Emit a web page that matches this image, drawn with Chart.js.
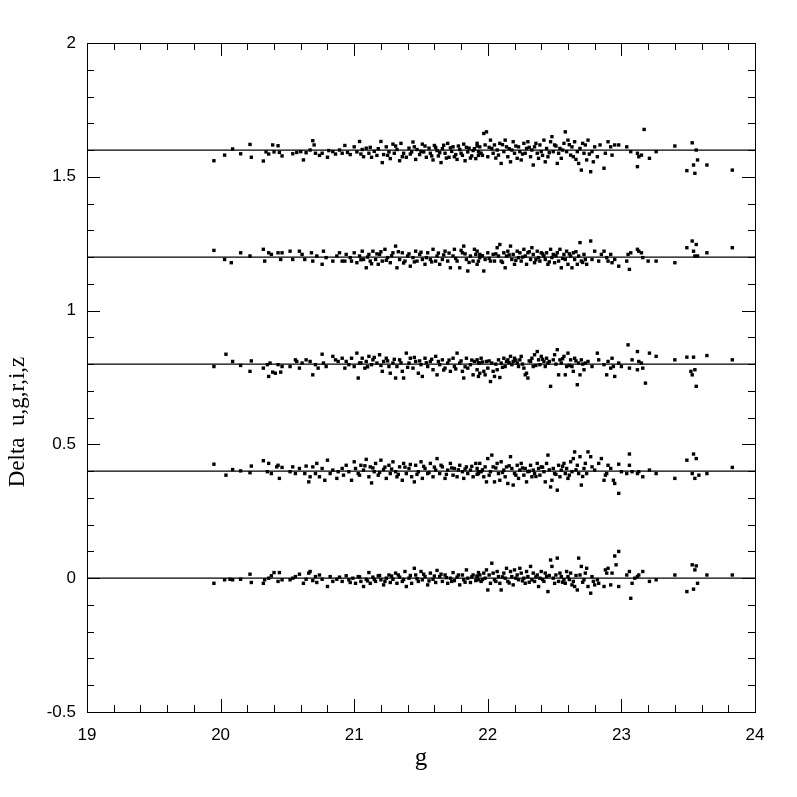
<!DOCTYPE html>
<html>
<head>
<meta charset="utf-8">
<script src="https://cdn.jsdelivr.net/npm/chart.js@4"></script>
<style>
  body { margin: 0; background: #fff; }
</style>
</head>
<body>
<canvas id="grafica" width="797" height="797"></canvas>
<script>
// Desplazamiento de cada banda
const offsets = [0, 0.4, 0.8, 1.2, 1.6];

// Residuos [g, delta], una lista por banda
const deltaU = [
  [19.95,-0.019],[20.03,-0.006],[20.07,-0.004],[20.09,-0.006],[20.15,-0.004],[20.22,0.015],[20.23,-0.016],[20.32,-0.019],[20.33,-0.006],[20.36,0.000],
  [20.38,0.009],[20.40,0.021],[20.43,-0.012],[20.44,0.021],[20.46,-0.006],[20.52,-0.006],[20.54,0.000],[20.56,0.006],[20.59,0.015],[20.62,-0.019],
  [20.64,-0.004],[20.66,0.019],[20.67,0.025],[20.69,-0.009],[20.71,0.006],[20.72,-0.016],[20.74,0.012],[20.76,-0.004],[20.80,-0.031],[20.82,0.006],
  [20.84,-0.012],[20.87,-0.004],[20.89,0.004],[20.91,-0.012],[20.94,0.009],[20.96,-0.006],[20.97,-0.016],[20.99,0.000],[21.01,-0.019],[21.03,0.006],
  [21.05,-0.012],[21.07,-0.031],[21.09,-0.004],[21.11,0.021],[21.12,-0.019],[21.14,0.004],[21.16,-0.012],[21.18,0.009],[21.20,-0.006],[21.22,-0.025],
  [21.24,0.000],[21.26,0.012],[21.27,-0.016],[21.29,-0.004],[21.31,0.019],[21.32,-0.019],[21.34,0.004],[21.36,-0.012],[21.38,0.025],[21.39,-0.031],
  [21.41,0.000],[21.43,-0.019],[21.45,0.037],[21.46,0.012],[21.48,-0.012],[21.50,0.025],[21.51,-0.006],[21.53,0.006],[21.55,-0.025],[21.57,0.019],
  [21.59,-0.004],[21.61,-0.016],[21.62,0.029],[21.64,0.006],[21.66,-0.012],[21.68,0.012],[21.70,-0.019],[21.72,0.000],[21.74,0.021],[21.75,-0.009],
  [21.77,0.004],[21.79,-0.025],[21.81,0.012],[21.82,-0.006],[21.84,0.031],[21.85,0.000],[21.87,-0.016],[21.89,0.012],[21.91,-0.009],[21.93,0.021],
  [21.04,0.005],[21.10,-0.010],[21.15,-0.005],[21.19,0.010],[21.23,-0.012],[21.28,0.008],[21.33,0.012],[21.37,-0.005],[21.42,0.010],[21.47,-0.002],
  [21.52,0.015],[21.56,-0.010],[21.60,0.008],[21.65,0.015],[21.69,0.002],[21.73,-0.012],[21.78,0.012],[21.83,-0.015],[21.88,0.005],[21.92,0.008],
  [21.92,0.006],[21.93,-0.006],[21.94,0.012],[21.95,-0.012],[21.97,0.019],[21.98,0.000],[21.99,0.031],[22.00,-0.044],[22.02,-0.019],[22.03,0.056],
  [22.04,0.019],[22.05,-0.006],[22.07,0.025],[22.08,0.006],[22.09,-0.019],[22.10,-0.044],[22.12,0.019],[22.13,0.000],[22.14,0.037],[22.15,-0.012],
  [22.17,0.025],[22.18,0.006],[22.19,-0.025],[22.20,0.031],[22.22,0.012],[22.23,-0.006],[22.24,0.037],[22.25,0.019],[22.27,0.000],[22.28,-0.019],
  [22.29,0.025],[22.30,0.006],[22.32,0.044],[22.33,-0.006],[22.34,0.019],[22.35,-0.012],[22.37,0.012],[22.38,-0.031],[22.39,0.000],[22.40,0.025],
  [22.42,-0.012],[22.43,0.019],[22.44,0.006],[22.45,-0.050],[22.47,0.068],[22.48,0.044],[22.49,0.000],[22.50,-0.019],[22.52,0.075],[22.53,-0.012],
  [22.54,0.019],[22.55,0.006],[22.57,-0.006],[22.58,-0.019],[22.59,0.025],[22.60,0.006],[22.62,0.019],[22.63,-0.025],[22.64,-0.012],[22.65,-0.031],
  [22.67,-0.044],[22.68,0.075],[22.69,0.012],[22.70,0.044],[22.72,-0.006],[22.73,0.019],[22.74,0.037],[22.75,-0.031],[22.77,-0.056],[22.78,0.006],
  [22.79,-0.012],[22.80,-0.025],[22.82,-0.006],[22.83,-0.019],[22.87,-0.031],[22.88,0.031],[22.89,0.019],[22.90,0.037],[22.92,-0.025],[22.93,0.019],
  [22.95,0.083],[22.96,0.050],[22.98,0.100],[22.98,-0.031],[23.04,0.012],[23.06,0.025],[23.07,-0.075],[23.08,-0.019],[23.10,0.000],[23.12,0.006],
  [23.13,0.012],[23.16,0.025],[23.21,-0.012],[23.26,-0.006],[23.40,0.012],[23.49,-0.050],[23.53,0.050],[23.54,-0.041],[23.55,0.031],[23.56,0.046],
  [23.57,-0.019],[23.64,0.012],[23.83,0.012],
  [21.96,-0.005],[22.01,0.012],[22.06,-0.012],[22.11,0.005],[22.16,-0.018],[22.21,0.000],[22.26,-0.010],[22.31,-0.015],[22.36,0.005],[22.41,-0.005],
  [22.46,0.010],[22.51,0.012],[22.56,-0.015],[22.61,-0.005],[22.66,0.010],[22.71,-0.015]
];

const deltaG = [
  [19.95,0.026],[20.04,-0.015],[20.09,0.006],[20.15,0.001],[20.22,-0.006],[20.23,0.019],[20.32,0.039],[20.35,-0.002],[20.36,0.029],[20.38,-0.009],
  [20.42,0.016],[20.43,0.022],[20.44,-0.027],[20.46,0.014],[20.52,-0.002],[20.54,0.016],[20.56,-0.009],[20.59,0.010],[20.63,-0.009],[20.64,0.019],
  [20.66,-0.040],[20.67,-0.021],[20.69,0.016],[20.71,-0.009],[20.72,0.029],[20.74,-0.021],[20.76,0.010],[20.78,-0.034],[20.80,0.041],[20.82,-0.009],
  [20.84,0.004],[20.87,-0.027],[20.88,-0.002],[20.91,0.010],[20.92,-0.015],[20.94,0.022],[20.96,-0.002],[20.98,-0.034],[21.00,0.035],[21.01,0.010],
  [21.03,-0.009],[21.05,0.022],[21.07,0.004],[21.09,0.044],[21.11,-0.021],[21.12,0.016],[21.13,-0.044],[21.15,-0.002],[21.16,0.029],[21.18,-0.015],
  [21.20,0.041],[21.22,0.006],[21.24,-0.027],[21.26,0.022],[21.27,-0.009],[21.29,0.035],[21.31,-0.002],[21.32,-0.021],[21.34,0.016],[21.36,-0.034],
  [21.37,0.029],[21.39,-0.009],[21.41,0.010],[21.43,-0.021],[21.45,-0.040],[21.46,0.022],[21.48,-0.002],[21.50,0.035],[21.51,-0.027],[21.53,0.010],
  [21.55,-0.009],[21.57,0.029],[21.59,-0.021],[21.61,0.004],[21.62,0.047],[21.64,-0.009],[21.66,0.016],[21.68,-0.027],[21.70,0.004],[21.72,0.029],
  [21.74,-0.015],[21.75,0.010],[21.77,-0.021],[21.79,0.022],[21.81,-0.002],[21.82,-0.027],[21.84,0.016],[21.85,-0.009],[21.87,0.004],[21.89,-0.021],
  [21.91,0.029],[21.93,-0.002],
  [21.04,-0.015],[21.08,0.020],[21.14,0.012],[21.19,-0.005],[21.23,0.015],[21.28,0.008],[21.33,-0.012],[21.38,0.015],[21.42,0.025],[21.47,-0.012],
  [21.52,0.018],[21.56,-0.005],[21.60,0.015],[21.65,0.022],[21.69,-0.012],[21.73,0.012],[21.78,0.005],[21.83,0.008],[21.88,0.018],[21.92,-0.012],
  [21.92,0.010],[21.93,-0.009],[21.94,0.029],[21.95,-0.002],[21.97,-0.021],[21.98,0.016],[21.99,-0.040],[22.00,0.047],[22.02,-0.002],[22.03,0.060],
  [22.04,0.016],[22.05,-0.040],[22.07,0.029],[22.08,-0.009],[22.09,-0.034],[22.10,0.035],[22.12,0.004],[22.13,-0.021],[22.14,0.016],[22.15,-0.046],
  [22.17,0.054],[22.18,0.010],[22.19,-0.052],[22.20,-0.009],[22.22,0.022],[22.23,-0.027],[22.24,0.004],[22.25,0.029],[22.27,-0.015],[22.28,0.010],
  [22.29,-0.040],[22.30,-0.002],[22.32,0.022],[22.33,-0.021],[22.34,0.004],[22.35,-0.009],[22.37,0.029],[22.38,0.010],[22.39,-0.015],[22.40,0.016],
  [22.42,-0.002],[22.43,-0.040],[22.44,0.029],[22.45,0.060],[22.47,-0.059],[22.48,-0.034],[22.49,0.010],[22.50,-0.009],[22.52,-0.071],[22.53,0.022],
  [22.54,-0.021],[22.55,0.004],[22.57,0.029],[22.58,-0.009],[22.59,0.010],[22.60,-0.027],[22.62,0.035],[22.63,-0.002],[22.64,0.047],[22.65,0.072],
  [22.67,0.022],[22.68,-0.009],[22.69,0.054],[22.70,-0.052],[22.72,0.010],[22.73,0.029],[22.74,-0.009],[22.75,0.072],[22.77,0.054],[22.78,0.016],
  [22.80,0.004],[22.83,0.029],[22.85,0.047],[22.87,-0.034],[22.88,-0.015],[22.89,-0.009],[22.90,0.022],[22.92,0.010],[22.94,-0.034],[22.95,-0.046],
  [22.98,-0.083],[22.98,0.026],[23.00,-0.002],[23.04,-0.009],[23.06,0.064],[23.06,0.022],[23.08,-0.002],[23.12,-0.009],[23.13,-0.002],[23.16,-0.021],
  [23.21,0.004],[23.26,-0.009],[23.40,-0.027],[23.49,0.041],[23.53,-0.009],[23.54,0.064],[23.55,-0.027],[23.56,0.047],[23.58,-0.015],[23.64,-0.009],
  [23.83,0.014],
  [21.96,0.005],[22.01,-0.015],[22.06,0.012],[22.11,-0.005],[22.16,0.020],[22.21,-0.015],[22.26,0.012],[22.31,0.000],[22.36,-0.020],[22.41,0.015],
  [22.46,0.005],[22.51,-0.012],[22.56,0.018],[22.61,-0.015],[22.66,0.005],[22.71,-0.020]
];

const deltaR = [
  [19.95,-0.009],[20.04,0.037],[20.09,0.010],[20.15,-0.005],[20.22,-0.027],[20.23,0.012],[20.32,-0.015],[20.35,-0.002],[20.36,-0.046],[20.37,0.004],
  [20.39,-0.030],[20.41,-0.034],[20.43,-0.002],[20.45,-0.030],[20.46,-0.009],[20.52,-0.009],[20.56,0.016],[20.57,0.010],[20.59,-0.015],[20.61,0.004],
  [20.64,0.016],[20.67,0.010],[20.69,-0.040],[20.71,-0.002],[20.73,-0.015],[20.76,0.037],[20.77,0.004],[20.79,-0.009],[20.84,0.029],[20.86,0.016],
  [20.88,0.010],[20.91,0.022],[20.93,-0.015],[20.94,0.010],[20.96,-0.002],[20.98,0.022],[21.00,-0.009],[21.02,0.041],[21.03,-0.052],[21.04,0.004],
  [21.06,0.022],[21.08,-0.015],[21.09,0.010],[21.11,0.029],[21.13,-0.002],[21.14,0.016],[21.17,0.004],[21.19,0.035],[21.21,-0.027],[21.22,0.010],
  [21.24,0.022],[21.26,-0.009],[21.27,-0.034],[21.29,0.004],[21.31,-0.052],[21.32,-0.009],[21.34,0.016],[21.36,-0.027],[21.37,-0.052],[21.39,0.041],
  [21.41,0.004],[21.42,0.022],[21.44,-0.015],[21.46,0.010],[21.48,-0.034],[21.50,-0.002],[21.51,-0.046],[21.53,0.022],[21.55,-0.009],[21.57,0.010],
  [21.59,-0.021],[21.61,0.029],[21.62,-0.040],[21.64,-0.002],[21.66,0.016],[21.68,-0.015],[21.70,0.004],[21.72,-0.027],[21.74,0.022],[21.75,-0.009],
  [21.77,0.041],[21.79,0.004],[21.81,-0.027],[21.82,-0.052],[21.84,0.022],[21.85,-0.015],[21.87,-0.002],[21.89,-0.040],[21.90,0.010],[21.92,-0.021],
  [21.94,-0.034],
  [21.05,0.005],[21.10,-0.010],[21.15,0.025],[21.20,-0.005],[21.25,0.012],[21.30,0.018],[21.35,0.005],[21.40,-0.012],[21.45,0.025],[21.49,0.012],
  [21.54,0.005],[21.58,0.018],[21.63,0.010],[21.67,-0.022],[21.71,0.015],[21.76,-0.018],[21.80,0.012],[21.83,-0.010],[21.88,0.015],[21.93,0.005],
  [21.92,0.016],[21.93,-0.046],[21.94,0.004],[21.95,0.022],[21.97,-0.027],[21.98,-0.040],[21.99,0.010],[22.00,-0.015],[22.02,-0.065],[22.03,0.004],
  [22.04,-0.027],[22.05,-0.046],[22.07,-0.021],[22.08,0.016],[22.09,-0.050],[22.10,0.004],[22.12,0.022],[22.13,-0.009],[22.14,0.010],[22.15,0.016],
  [22.17,0.029],[22.18,-0.002],[22.19,0.010],[22.20,0.022],[22.22,0.004],[22.23,-0.009],[22.24,0.016],[22.25,0.029],[22.27,-0.015],[22.28,-0.040],
  [22.29,-0.034],[22.30,-0.052],[22.32,0.010],[22.33,0.022],[22.34,-0.009],[22.35,0.035],[22.37,0.047],[22.38,0.016],[22.39,-0.002],[22.40,0.029],
  [22.42,0.010],[22.43,-0.009],[22.44,0.022],[22.45,0.004],[22.47,-0.083],[22.49,0.016],[22.50,0.035],[22.52,0.054],[22.53,-0.040],[22.54,0.016],
  [22.55,0.004],[22.57,0.029],[22.58,-0.040],[22.59,-0.009],[22.60,0.041],[22.62,0.016],[22.63,-0.009],[22.64,-0.027],[22.65,0.022],[22.67,-0.077],
  [22.68,0.004],[22.69,-0.040],[22.70,0.016],[22.72,-0.021],[22.73,0.004],[22.75,0.010],[22.78,-0.009],[22.82,0.041],[22.83,0.016],[22.87,-0.002],
  [22.89,-0.040],[22.90,0.010],[22.92,-0.015],[22.93,0.022],[22.94,-0.009],[22.95,-0.046],[22.98,0.004],[23.00,-0.009],[23.05,0.072],[23.06,-0.015],
  [23.08,0.016],[23.12,0.047],[23.12,-0.021],[23.13,0.010],[23.15,0.004],[23.16,-0.015],[23.18,-0.071],[23.21,0.041],[23.26,0.029],[23.40,0.016],
  [23.49,0.026],[23.52,-0.027],[23.53,-0.040],[23.54,0.026],[23.55,-0.021],[23.56,-0.083],[23.64,0.032],[23.83,0.016],
  [21.96,0.008],[22.01,0.012],[22.06,0.000],[22.11,-0.012],[22.16,0.005],[22.21,0.015],[22.26,0.000],[22.31,0.012],[22.36,-0.005],[22.41,0.018],
  [22.46,0.010],[22.51,0.000],[22.56,0.020],[22.61,-0.005],[22.66,0.012],[22.71,0.000]
];

const deltaI = [
  [19.95,0.025],[20.03,-0.009],[20.08,-0.021],[20.15,0.016],[20.22,0.004],[20.32,0.029],[20.33,-0.015],[20.36,0.016],[20.38,0.010],[20.43,0.016],
  [20.45,-0.009],[20.46,0.016],[20.52,0.022],[20.54,-0.009],[20.59,0.022],[20.61,0.010],[20.63,-0.009],[20.68,0.016],[20.69,-0.015],[20.72,0.004],
  [20.76,-0.027],[20.77,0.022],[20.79,-0.002],[20.84,-0.015],[20.87,0.004],[20.89,0.016],[20.91,-0.015],[20.93,-0.015],[20.94,0.010],[20.97,-0.002],
  [20.98,-0.015],[21.00,0.016],[21.02,-0.021],[21.04,0.004],[21.06,0.022],[21.07,-0.009],[21.09,-0.040],[21.11,0.010],[21.12,-0.015],[21.14,0.022],
  [21.16,-0.009],[21.18,-0.027],[21.19,0.010],[21.21,-0.015],[21.23,0.029],[21.25,-0.002],[21.27,-0.021],[21.29,0.016],[21.31,0.041],[21.32,-0.040],
  [21.34,-0.009],[21.36,0.016],[21.38,-0.015],[21.40,0.004],[21.42,-0.034],[21.44,-0.002],[21.46,0.022],[21.47,-0.015],[21.49,0.010],[21.51,-0.009],
  [21.53,-0.027],[21.55,0.016],[21.57,-0.009],[21.59,0.029],[21.61,-0.015],[21.62,0.004],[21.64,-0.027],[21.66,-0.009],[21.68,0.022],[21.70,-0.015],
  [21.72,-0.040],[21.74,0.004],[21.75,0.029],[21.77,-0.015],[21.79,-0.040],[21.81,0.016],[21.82,0.041],[21.84,-0.009],[21.85,-0.052],[21.87,0.004],
  [21.89,-0.015],[21.90,0.029],[21.92,-0.027],[21.94,-0.002],
  [21.05,-0.010],[21.10,0.000],[21.13,-0.025],[21.17,0.012],[21.20,0.020],[21.24,-0.012],[21.28,0.005],[21.33,0.020],[21.37,-0.022],[21.41,0.012],
  [21.45,-0.018],[21.50,0.018],[21.54,-0.002],[21.58,-0.018],[21.63,0.015],[21.67,0.008],[21.71,0.015],[21.76,-0.005],[21.80,0.025],[21.83,0.012],
  [21.86,-0.020],[21.91,0.010],
  [21.92,0.022],[21.93,-0.015],[21.94,0.010],[21.97,-0.052],[21.98,-0.009],[22.00,0.016],[22.02,-0.015],[22.04,0.010],[22.05,-0.015],[22.07,0.035],
  [22.08,0.004],[22.09,0.047],[22.10,-0.015],[22.12,0.016],[22.13,-0.040],[22.14,0.004],[22.15,0.022],[22.17,0.041],[22.18,-0.009],[22.19,0.010],
  [22.20,-0.027],[22.22,0.022],[22.23,-0.002],[22.24,0.016],[22.25,-0.015],[22.27,0.029],[22.28,0.004],[22.29,-0.027],[22.30,0.016],[22.32,-0.009],
  [22.33,0.035],[22.34,0.010],[22.35,-0.021],[22.37,0.022],[22.38,-0.002],[22.39,-0.015],[22.40,0.016],[22.42,0.004],[22.43,-0.009],[22.44,0.016],
  [22.45,-0.027],[22.47,0.029],[22.48,-0.002],[22.49,0.010],[22.50,-0.021],[22.52,0.016],[22.53,-0.015],[22.54,0.029],[22.55,-0.040],[22.57,0.010],
  [22.58,-0.009],[22.59,0.022],[22.60,-0.027],[22.62,0.004],[22.63,-0.040],[22.64,0.016],[22.65,-0.009],[22.67,-0.027],[22.68,0.004],[22.69,0.054],
  [22.70,-0.015],[22.72,0.010],[22.73,-0.009],[22.74,-0.027],[22.77,0.060],[22.78,-0.009],[22.80,0.022],[22.83,-0.015],[22.85,0.010],[22.87,0.022],
  [22.89,-0.002],[22.90,-0.015],[22.92,0.010],[22.93,-0.021],[22.95,-0.009],[22.98,-0.034],[23.04,-0.015],[23.05,0.010],[23.06,-0.046],[23.07,0.016],
  [23.12,0.029],[23.13,0.022],[23.15,0.016],[23.16,-0.002],[23.20,-0.015],[23.26,-0.015],[23.40,-0.021],[23.49,0.035],[23.53,0.060],[23.54,0.022],
  [23.55,0.004],[23.56,0.047],[23.57,0.004],[23.64,0.016],[23.83,0.035],
  [21.96,0.005],[22.01,-0.005],[22.06,0.012],[22.11,-0.020],[22.16,0.008],[22.21,-0.012],[22.26,0.000],[22.31,0.020],[22.36,-0.010],[22.41,0.012],
  [22.46,-0.018],[22.51,0.005],[22.56,-0.005],[22.61,0.012],[22.66,0.020],[22.71,-0.020]
];

const deltaZ = [
  [19.95,-0.040],[20.03,-0.019],[20.09,0.004],[20.15,-0.014],[20.22,0.021],[20.23,-0.027],[20.32,-0.041],[20.34,-0.007],[20.36,-0.015],[20.39,0.019],
  [20.40,-0.007],[20.43,0.016],[20.44,-0.009],[20.46,-0.022],[20.54,-0.014],[20.57,-0.009],[20.60,-0.006],[20.62,-0.037],[20.64,-0.010],[20.67,0.000],
  [20.69,0.035],[20.70,0.019],[20.71,-0.012],[20.74,-0.020],[20.76,-0.012],[20.80,-0.027],[20.81,-0.002],[20.84,-0.006],[20.86,-0.015],[20.89,0.000],
  [20.91,-0.012],[20.93,0.017],[20.95,-0.009],[20.97,-0.017],[21.00,0.012],[21.02,-0.007],[21.04,0.032],[21.06,0.002],[21.07,-0.025],[21.09,0.007],
  [21.11,-0.012],[21.13,-0.027],[21.15,-0.005],[21.17,-0.020],[21.20,0.032],[21.21,-0.047],[21.22,-0.017],[21.24,0.012],[21.26,-0.007],[21.27,-0.032],
  [21.29,0.022],[21.30,-0.012],[21.32,0.002],[21.34,-0.040],[21.35,0.025],[21.37,-0.012],[21.39,-0.027],[21.41,0.007],[21.43,-0.007],[21.44,0.030],
  [21.46,-0.035],[21.47,0.002],[21.49,-0.017],[21.51,0.022],[21.52,-0.007],[21.54,-0.027],[21.56,0.007],[21.57,-0.012],[21.59,-0.037],[21.60,0.017],
  [21.62,-0.002],[21.63,-0.022],[21.65,-0.047],[21.66,0.005],[21.68,-0.012],[21.70,0.025],[21.71,-0.027],[21.73,-0.005],[21.74,0.012],[21.76,-0.017],
  [21.77,-0.035],[21.79,0.002],[21.80,-0.012],[21.82,0.022],[21.83,-0.040],[21.85,-0.007],[21.86,0.007],[21.88,-0.022],[21.89,-0.002],[21.91,-0.032],
  [21.92,0.015],[21.94,-0.012],
  [21.05,-0.015],[21.12,0.010],[21.18,0.005],[21.25,-0.020],[21.31,0.015],[21.36,-0.025],[21.42,-0.015],[21.45,0.012],[21.50,-0.005],[21.53,0.015],
  [21.58,-0.022],[21.61,0.010],[21.64,-0.010],[21.67,0.018],[21.69,-0.030],[21.72,0.008],[21.75,-0.025],[21.78,0.015],[21.81,-0.020],[21.84,0.010],
  [21.87,-0.030],[21.90,0.005],[21.93,-0.020],
  [21.92,0.025],[21.93,-0.006],[21.94,0.012],[21.95,-0.012],[21.97,0.062],[21.98,0.019],[21.99,0.068],[22.00,-0.025],[22.02,0.037],[22.03,0.006],
  [22.04,-0.012],[22.05,0.019],[22.07,0.000],[22.08,-0.019],[22.09,0.025],[22.10,-0.050],[22.12,-0.006],[22.13,0.037],[22.14,0.012],[22.15,-0.025],
  [22.17,-0.044],[22.18,0.000],[22.19,0.031],[22.20,-0.012],[22.22,-0.031],[22.23,0.012],[22.24,-0.006],[22.25,-0.037],[22.27,0.025],[22.28,-0.012],
  [22.29,0.006],[22.30,0.031],[22.32,-0.025],[22.33,0.000],[22.34,-0.056],[22.35,0.012],[22.37,-0.012],[22.38,-0.031],[22.39,0.019],[22.40,-0.006],
  [22.42,0.037],[22.43,-0.044],[22.44,0.006],[22.45,-0.025],[22.47,0.031],[22.48,0.050],[22.49,-0.006],[22.50,0.019],[22.52,-0.050],[22.53,-0.012],
  [22.54,0.006],[22.55,-0.031],[22.57,0.025],[22.58,0.068],[22.59,-0.006],[22.60,0.037],[22.62,-0.019],[22.63,0.012],[22.64,-0.025],[22.65,0.031],
  [22.67,-0.006],[22.68,-0.050],[22.69,0.006],[22.70,-0.075],[22.72,-0.012],[22.73,0.019],[22.74,-0.037],[22.75,0.037],[22.77,-0.081],[22.78,-0.006],
  [22.79,-0.044],[22.80,0.012],[22.82,-0.025],[22.84,0.019],[22.87,-0.068],[22.88,-0.012],[22.90,0.031],[22.92,0.012],[22.93,-0.019],[22.95,0.019],
  [22.98,0.019],[23.04,0.012],[23.07,-0.006],[23.12,-0.012],[23.12,-0.062],[23.13,-0.025],[23.15,-0.019],[23.17,0.077],[23.21,-0.031],[23.26,-0.006],
  [23.40,0.015],[23.49,-0.077],[23.53,0.027],[23.54,-0.056],[23.55,-0.087],[23.56,0.000],[23.57,-0.037],[23.64,-0.056],[23.83,-0.075],
  [21.96,-0.020],[22.01,0.010],[22.06,-0.030],[22.11,0.020],[22.16,0.005],[22.21,0.015],[22.26,-0.015],[22.31,0.010],[22.36,0.025],[22.41,-0.020],
  [22.46,-0.010],[22.51,0.015],[22.56,0.000],[22.61,0.020],[22.66,-0.035],[22.71,0.025],[22.76,-0.015]
];

const bandas = [deltaU, deltaG, deltaR, deltaI, deltaZ];

// Ejes
const xMin = 19, xMax = 24;
const yMin = -0.5, yMax = 2;
const xTitulo = 'g';
const yTitulo = 'Delta  u,g,r,i,z';

const datasets = [];

//Líneas horizontales de referencia
offsets.forEach(off => {
  datasets.push({
    type: 'line',
    data: [{ x: xMin, y: off }, { x: xMax, y: off }],
    borderColor: '#000',
    borderWidth: 1.2,
    pointRadius: 0,
    order: 2
  });
});

//Puntos de cada banda
bandas.forEach((banda, i) => {
  datasets.push({
    type: 'scatter',
    data: banda.map(p => ({ x: p[0], y: offsets[i] + p[1] })),
    pointStyle: 'rect',
    pointRadius: 2.4,
    backgroundColor: '#000',
    borderWidth: 0,
    order: 1
  });
});

// Marco, marcas de los ejes y títulos
const marcoPlugin = {
  id: 'marco',
  afterDraw(chart) {
    const ctx = chart.ctx;
    const a = chart.chartArea;
    const xs = chart.scales.x, ys = chart.scales.y;
    ctx.save();
    ctx.strokeStyle = '#000';
    ctx.lineWidth = 1;
    ctx.strokeRect(Math.round(a.left) + 0.5, Math.round(a.top) + 0.5,
      Math.round(a.right - a.left), Math.round(a.bottom - a.top));
    ctx.beginPath();
    for (let k = 0; k <= 25; k++) {
      const len = k % 5 === 0 ? 13 : 7;
      const px = Math.round(xs.getPixelForValue(xMin + k * 0.2)) + 0.5;
      ctx.moveTo(px, a.bottom); ctx.lineTo(px, a.bottom - len);
      ctx.moveTo(px, a.top); ctx.lineTo(px, a.top + len);
      const py = Math.round(ys.getPixelForValue(yMin + k * 0.1)) + 0.5;
      ctx.moveTo(a.left, py); ctx.lineTo(a.left + len, py);
      ctx.moveTo(a.right, py); ctx.lineTo(a.right - len, py);
    }
    ctx.stroke();

    ctx.fillStyle = '#000';
    ctx.font = '25px "Liberation Serif"';
    ctx.textAlign = 'center';
    ctx.textBaseline = 'alphabetic';
    ctx.fillText(xTitulo, (a.left + a.right) / 2, 765);
    ctx.font = '23px "Liberation Serif"';
    ctx.translate(24, 422);
    ctx.rotate(-Math.PI / 2);
    ctx.fillText(yTitulo, 0, 0);
    ctx.restore();
  }
};

const fuenteTicks = { family: '"Liberation Sans", Arial, sans-serif', size: 17 };

new Chart(document.getElementById('grafica'), {
  type: 'scatter',
  data: { datasets },
  options: {
    responsive: false,
    animation: false,
    layout: { padding: { left: 0, top: 43, right: 42, bottom: 0 } },
    plugins: { legend: { display: false }, tooltip: { enabled: false } },
    scales: {
      x: {
        type: 'linear', min: xMin, max: xMax,
        grid: { display: false, drawTicks: false },
        border: { display: false },
        ticks: { stepSize: 1, color: '#000', font: fuenteTicks, padding: 13, maxRotation: 0 },
        afterFit: s => { s.height = 85; }
      },
      y: {
        type: 'linear', min: yMin, max: yMax,
        grid: { display: false, drawTicks: false },
        border: { display: false },
        ticks: {
          stepSize: 0.5, color: '#000', font: fuenteTicks, padding: 11,
          callback: v => String(Math.round(v * 10) / 10)
        },
        afterFit: s => { s.width = 87; }
      }
    }
  },
  plugins: [marcoPlugin]
});
</script>
</body>
</html>
